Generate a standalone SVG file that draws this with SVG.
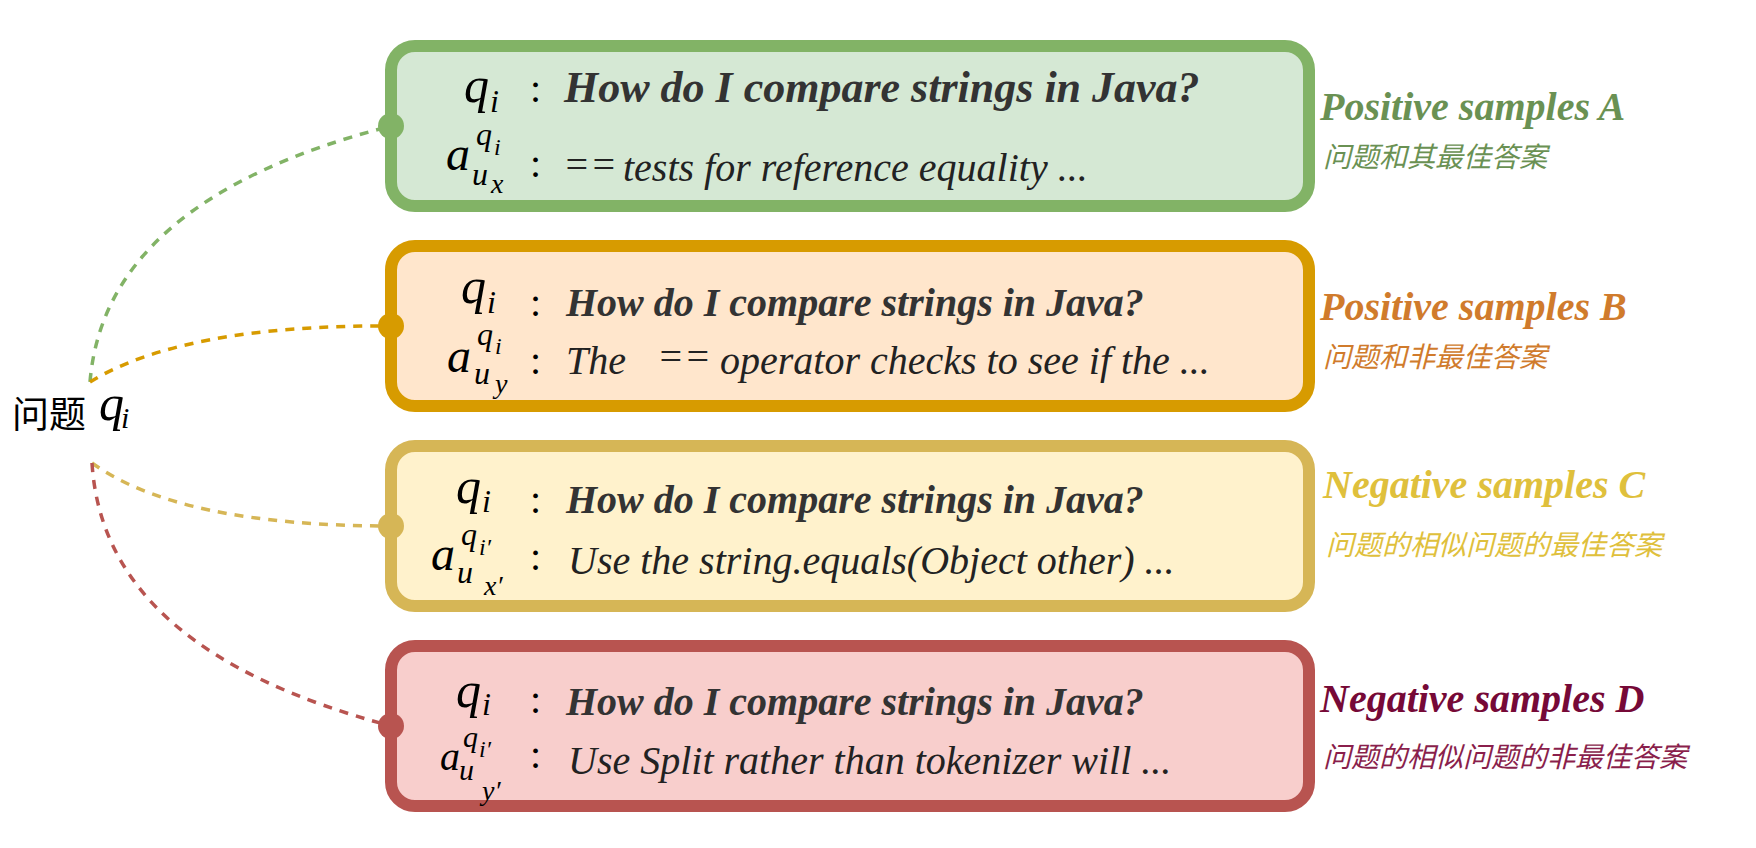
<svg xmlns="http://www.w3.org/2000/svg" width="1756" height="848" viewBox="0 0 1756 848">
<style>
.box{stroke-width:12}
.g{fill:#d5e8d4;stroke:#82b366}
.o{fill:#ffe6cc;stroke:#d79b00}
.y{fill:#fff2cc;stroke:#d6b656}
.r{fill:#f8cecc;stroke:#b85450}
.m{font-family:"Liberation Serif",serif;font-style:italic;fill:#000}
.c{font-family:"Liberation Serif",serif;font-size:40px;fill:#000}
.qt{font-family:"Liberation Serif",serif;font-style:italic;font-weight:bold;fill:#333}
.at{font-family:"Liberation Serif",serif;font-style:italic;font-size:40px;fill:#222}
.tt{font-family:"Liberation Serif",serif;font-style:italic;font-weight:bold;font-size:40px}
.st{font-family:"Liberation Serif","Noto Sans CJK SC",sans-serif;font-style:italic;font-size:28px}
.cn{fill:none;stroke-width:3.5;stroke-dasharray:9 8}
</style>
<rect width="1756" height="848" fill="#fff"/>

<g id="question">
<text x="12" y="428" font-family="'Noto Sans CJK SC',sans-serif" font-size="37" fill="#000">问题</text>
<text class="m" x="99" y="420" font-size="50">q</text>
<text class="m" x="121" y="428" font-size="30">i</text>
</g>

<g id="boxA">
<rect class="box g" x="391" y="46" width="918" height="160" rx="24"/>
<text class="m" x="464" y="102" font-size="50">q</text>
<text class="m" x="490" y="112" font-size="32">i</text>
<text class="c" x="530" y="102">:</text>
<text class="qt" x="564" y="102" font-size="44">How do I compare strings in Java?</text>
<text class="m" x="446" y="170" font-size="48">a</text>
<text class="m" x="476" y="145" font-size="32">q</text>
<text class="m" x="494" y="155" font-size="24">i</text>
<text class="m" x="472" y="185" font-size="32">u</text>
<text class="m" x="491" y="193" font-size="28">x</text>
<text class="c" x="530" y="177">:</text>
<text class="at" x="563" y="178" font-size="30">==</text>
<text class="at" x="623" y="181">tests for reference equality ...</text>
<text class="tt" x="1320" y="120" fill="#6a9153">Positive samples A</text>
<text class="st" x="1323" y="167" fill="#6a9153">问题和其最佳答案</text>
</g>

<g id="boxB">
<rect class="box o" x="391" y="246" width="918" height="160" rx="24"/>
<text class="m" x="461" y="303" font-size="50">q</text>
<text class="m" x="487" y="313" font-size="32">i</text>
<text class="c" x="530" y="316">:</text>
<text class="qt" x="566" y="316" font-size="40">How do I compare strings in Java?</text>
<text class="m" x="447" y="372" font-size="48">a</text>
<text class="m" x="477" y="345" font-size="32">q</text>
<text class="m" x="495" y="354" font-size="24">i</text>
<text class="m" x="474" y="384" font-size="32">u</text>
<text class="m" x="495" y="393" font-size="28">y</text>
<text class="c" x="530" y="374">:</text>
<text class="at" x="566" y="374">The</text>
<text class="at" x="657" y="370" font-size="30">==</text>
<text class="at" x="720" y="374">operator checks to see if the ...</text>
<text class="tt" x="1320" y="320" fill="#d07b2c">Positive samples B</text>
<text class="st" x="1323" y="367" fill="#d07b2c">问题和非最佳答案</text>
</g>

<g id="boxC">
<rect class="box y" x="391" y="446" width="918" height="160" rx="24"/>
<text class="m" x="456" y="503" font-size="50">q</text>
<text class="m" x="482" y="512" font-size="32">i</text>
<text class="c" x="530" y="513">:</text>
<text class="qt" x="566" y="513" font-size="40">How do I compare strings in Java?</text>
<text class="m" x="431" y="570" font-size="48">a</text>
<text class="m" x="461" y="545" font-size="32">q</text>
<text class="m" x="479" y="555" font-size="24">i′</text>
<text class="m" x="457" y="583" font-size="32">u</text>
<text class="m" x="484" y="595" font-size="28">x′</text>
<text class="c" x="530" y="570">:</text>
<text class="at" x="568" y="574">Use the string.equals(Object other) ...</text>
<text class="tt" x="1323" y="498" fill="#dfc03c">Negative samples C</text>
<text class="st" x="1326" y="555" fill="#dfc03c">问题的相似问题的最佳答案</text>
</g>

<g id="boxD">
<rect class="box r" x="391" y="646" width="918" height="160" rx="24"/>
<text class="m" x="456" y="707" font-size="50">q</text>
<text class="m" x="482" y="715" font-size="32">i</text>
<text class="c" x="530" y="713">:</text>
<text class="qt" x="566" y="715" font-size="40">How do I compare strings in Java?</text>
<text class="m" x="440" y="770" font-size="40">a</text>
<text class="m" x="463" y="747" font-size="30">q</text>
<text class="m" x="479" y="757" font-size="24">i′</text>
<text class="m" x="459" y="780" font-size="30">u</text>
<text class="m" x="482" y="800" font-size="28">y′</text>
<text class="c" x="530" y="768">:</text>
<text class="at" x="568" y="774">Use Split rather than tokenizer will ...</text>
<text class="tt" x="1320" y="712" fill="#760937">Negative samples D</text>
<text class="st" x="1323" y="767" fill="#8a1f4c">问题的相似问题的非最佳答案</text>
</g>

<g id="connectors">
<path class="cn" stroke="#82b366" d="M90,382 C100,260 200,175 391,126"/>
<path class="cn" stroke="#d79b00" d="M90,382 C150,345 250,325 391,326"/>
<path class="cn" stroke="#d6b656" d="M92,463 C150,505 250,526 391,526"/>
<path class="cn" stroke="#b85450" d="M92,463 C100,590 200,675 391,726"/>
<circle cx="391" cy="126" r="13" fill="#82b366"/>
<circle cx="391" cy="326" r="13" fill="#d79b00"/>
<circle cx="391" cy="526" r="13" fill="#d6b656"/>
<circle cx="391" cy="726" r="13" fill="#b85450"/>
</g>
</svg>
